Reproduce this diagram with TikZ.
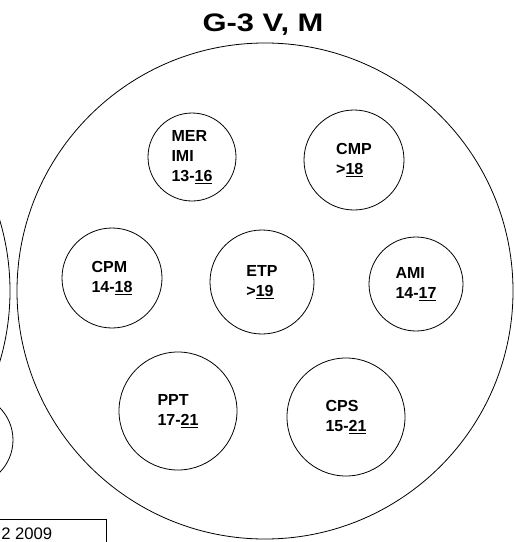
\documentclass[tikz,border=0pt]{standalone}
\usepackage{fontspec}
\setmainfont{Liberation Sans}
\usepackage{graphicx}
\begin{document}
\begin{tikzpicture}[x=0.75pt,y=-0.75pt,
    ring/.style={circle, draw, line width=0.6pt, inner sep=0pt},
    agent/.style={ring, font=\bfseries\fontsize{12}{15}\selectfont, align=left}]
    % page frame, everything outside is cut off
    \useasboundingbox (0,0) rectangle (514,542);
    \clip (0,0) rectangle (514,542);

    % title
    \node[anchor=base] (title) at (263,32) {\fontsize{19}{22}\selectfont\bfseries\scalebox{1.22}[1]{G-3 V, M}};

    % large group circle and the neighbours at the left border
    \node[ring, minimum size=372pt] (group) at (265,291) {};
    \node[ring, minimum size=372pt] (leftgroup) at (-238,291) {};
    \node[ring, minimum size=69pt] (leftsmall) at (-33,440) {};

    % inner circles: name/x/y/size/text
    \foreach \nm/\x/\y/\d/\txt in {
        mer/192/157/66/{MER\\IMI\\13-\underline{16}},
        cmp/354/160/75/{CMP\\>\underline{18}},
        cpm/112/278/75/{CPM\\14-\underline{18}},
        etp/262/282/78/{ETP\\>\underline{19}},
        ami/416/284/70.5/{AMI\\14-\underline{17}},
        ppt/178/411/88.5/{PPT\\17-\underline{21}},
        cps/346/417/88.5/{CPS\\15-\underline{21}}} {
        \node[agent, minimum size=\d pt] (\nm) at (\x,\y) {\txt};
    }

    % date box at the lower border
    \node[draw, line width=0.6pt, anchor=north east, minimum width=120pt, minimum height=40pt] (datebox) at (107,519) {};
    \node[anchor=base west, inner sep=0pt, font=\fontsize{12.5}{15}\selectfont] (date) at (1,539) {2 2009};
\end{tikzpicture}
\end{document}
